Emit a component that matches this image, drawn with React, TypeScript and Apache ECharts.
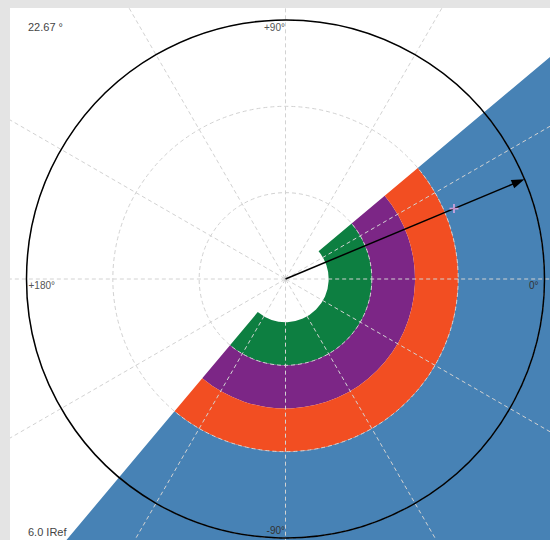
import React, { useEffect, useRef } from 'react';
import * as echarts from 'echarts';

// ---- data ----
const RADIUS_MAX = 6;
const RADIUS_INTERVAL = 2;
const ANGLE_INTERVAL = 30;
const RING_INNER = [1, 2, 3];
const RING_OUTER = [2, 3, 4];
const RING_COLORS = ['#0d7f41', '#7c2686', '#f24e22'];
const SECTOR_ANGLES = [-130, 40]; // from, to (degrees)
const REGION_RADII = [4, 10];
const REGION_COLOR = '#4782b5';
const PHASOR = [6, 22.67]; // magnitude, angle
const MARKER = [4.23, 22.67];
const ANGLE_LABELS = ['0°', '+90°', '+180°', '-90°'];
const CORNER_LABELS = ['22.67 °', '6.0 IRef'];

function sectorItem(params: any, api: any) {
  const r0v = api.value(0);
  const r1v = api.value(1);
  const aFrom = api.value(2);
  const aTo = api.value(3);
  const c = api.coord([0, 0]);
  const pStart = api.coord([r1v, aTo]);
  const pEnd = api.coord([r1v, aFrom]);
  const pIn = api.coord([r0v, aTo]);
  const r = Math.hypot(pStart[0] - c[0], pStart[1] - c[1]);
  const r0 = Math.hypot(pIn[0] - c[0], pIn[1] - c[1]);
  const sa = Math.atan2(pStart[1] - c[1], pStart[0] - c[0]);
  let ea = Math.atan2(pEnd[1] - c[1], pEnd[0] - c[0]);
  if (ea < sa) ea += Math.PI * 2;
  return {
    type: 'sector',
    shape: { cx: c[0], cy: c[1], r0, r, startAngle: sa, endAngle: ea, clockwise: true },
    style: { fill: api.visual('color') },
  };
}

function arrowItem(params: any, api: any) {
  const c = api.coord([0, api.value(1)]);
  const t = api.coord([api.value(0), api.value(1)]);
  const dx = t[0] - c[0];
  const dy = t[1] - c[1];
  const len = Math.hypot(dx, dy);
  const ux = dx / len;
  const uy = dy / len;
  const hl = 13;
  const hw = 4.5;
  const bx = t[0] - ux * hl;
  const by = t[1] - uy * hl;
  return {
    type: 'group',
    children: [
      {
        type: 'line',
        shape: { x1: c[0], y1: c[1], x2: bx + ux * 2, y2: by + uy * 2 },
        style: { stroke: '#000', lineWidth: 1.5 },
      },
      {
        type: 'polygon',
        shape: {
          points: [
            [t[0], t[1]],
            [bx - uy * hw, by + ux * hw],
            [bx + uy * hw, by - ux * hw],
          ],
        },
        style: { fill: '#000' },
      },
    ],
  };
}

export default function App() {
  const ref = useRef<HTMLDivElement>(null);
  useEffect(() => {
    if (!ref.current) return;
    const chart = echarts.init(ref.current, null, { renderer: 'svg' });
    const font = "'Liberation Sans', Arial, sans-serif";
    const cx = 275.5;
    const cy = 271;
    const R = 259;
    const gridLine = { show: true, lineStyle: { color: '#d2d2d2', width: 1, type: [4, 3] as any } };
    const option: any = {
      animation: false,
      polar: [
        { center: [cx, cy], radius: R },
        { center: [cx, cy], radius: R * (REGION_RADII[1] / RADIUS_MAX) },
      ],
      angleAxis: [
        {
          polarIndex: 0,
          type: 'value',
          min: 0,
          max: 360,
          interval: ANGLE_INTERVAL,
          startAngle: 0,
          clockwise: false,
          z: 10,
          axisLine: { show: true, lineStyle: { color: '#000', width: 1.5 } },
          axisTick: { show: false },
          axisLabel: { show: false },
          splitLine: { show: false },
        },
        {
          polarIndex: 1,
          type: 'value',
          min: 0,
          max: 360,
          interval: ANGLE_INTERVAL,
          startAngle: 0,
          clockwise: false,
          z: 9,
          axisLine: { show: false },
          axisTick: { show: false },
          axisLabel: { show: false },
          splitLine: gridLine,
        },
      ],
      radiusAxis: [
        {
          polarIndex: 0,
          type: 'value',
          min: 0,
          max: RADIUS_MAX,
          interval: RADIUS_INTERVAL,
          z: 9,
          axisLine: { show: false },
          axisTick: { show: false },
          axisLabel: { show: false },
          splitLine: gridLine,
        },
        {
          polarIndex: 1,
          type: 'value',
          min: 0,
          max: REGION_RADII[1],
          show: false,
          splitLine: { show: false },
        },
      ],
      series: [
        {
          type: 'custom',
          coordinateSystem: 'polar',
          polarIndex: 0,
          z: 1,
          renderItem: sectorItem,
          data: [
            {
              value: [REGION_RADII[0], REGION_RADII[1], SECTOR_ANGLES[0], SECTOR_ANGLES[1]],
              itemStyle: { color: REGION_COLOR },
            },
          ],
        },
        {
          type: 'custom',
          coordinateSystem: 'polar',
          polarIndex: 0,
          z: 2,
          renderItem: sectorItem,
          data: RING_INNER.map((r0, i) => ({
            value: [r0, RING_OUTER[i], SECTOR_ANGLES[0], SECTOR_ANGLES[1]],
            itemStyle: { color: RING_COLORS[i] },
          })),
        },
        {
          type: 'custom',
          coordinateSystem: 'polar',
          polarIndex: 0,
          z: 20,
          renderItem: arrowItem,
          data: [PHASOR],
        },
        {
          type: 'scatter',
          coordinateSystem: 'polar',
          polarIndex: 0,
          z: 21,
          symbol: 'path://M4,0h2v4h4v2h-4v4h-2v-4h-4v-2h4z',
          symbolSize: 9,
          itemStyle: { color: '#eeaaea' },
          data: [MARKER],
        },
      ],
      graphic: [
        { type: 'text', z: 30, x: 18, y: 13, style: { text: CORNER_LABELS[0], font: `11px ${font}`, fill: '#444', textVerticalAlign: 'top' } },
        { type: 'text', z: 30, x: 18, y: 518, style: { text: CORNER_LABELS[1], font: `11px ${font}`, fill: '#444', textVerticalAlign: 'top' } },
        { type: 'text', z: 30, x: cx - 0.5, y: cy - R + 2, style: { text: ANGLE_LABELS[1], font: `10px ${font}`, fill: '#555', textAlign: 'right', textVerticalAlign: 'top' } },
        { type: 'text', z: 30, x: cx - R + 2, y: cy + 1, style: { text: ANGLE_LABELS[2], font: `10px ${font}`, fill: '#555', textAlign: 'left', textVerticalAlign: 'top' } },
        { type: 'text', z: 30, x: cx + R - 6, y: cy + 1, style: { text: ANGLE_LABELS[0], font: `10px ${font}`, fill: '#333', textAlign: 'right', textVerticalAlign: 'top' } },
        { type: 'text', z: 30, x: cx - 0.5, y: cy + R - 13, style: { text: ANGLE_LABELS[3], font: `10px ${font}`, fill: '#333', textAlign: 'right', textVerticalAlign: 'top' } },
      ],
    };
    chart.setOption(option);
    return () => chart.dispose();
  }, []);
  return (
    <div style={{ position: 'fixed', left: 0, top: 0, width: 550, height: 540, background: '#e4e4e4', overflow: 'hidden' }}>
      <div ref={ref} style={{ position: 'absolute', left: 10, top: 8, width: 540, height: 532, background: '#fff' }} />
    </div>
  );
}
